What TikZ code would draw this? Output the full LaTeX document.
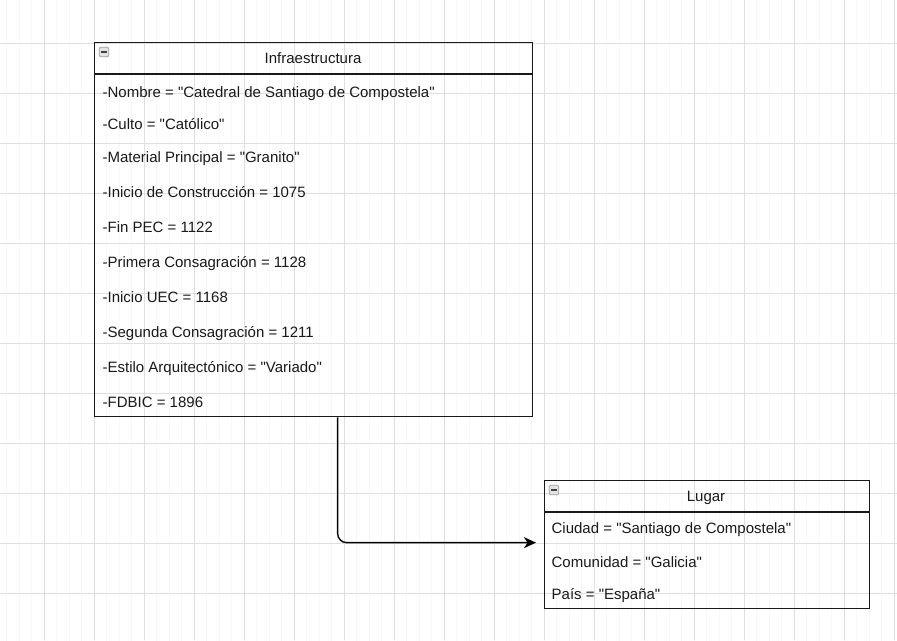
\documentclass[tikz,border=0pt]{standalone}
\usepackage{fontspec}
\setmainfont{Liberation Sans}[Ligatures=TeXOff]
\usetikzlibrary{arrows.meta}

\begin{document}
\begin{tikzpicture}[x=1pt, y=-1pt, line width=1.3pt,
  every node/.style={font=\fontsize{15}{18}\selectfont, inner sep=0pt, text=black!90},
  classbox/.style={draw=black!90, rectangle, anchor=north west},
  attr/.style={anchor=base west},
  minusbox/.style={draw=gray!75, fill=gray!22, rounded corners=1.2pt, line width=0.7pt,
    minimum size=9.5pt, path picture={\draw[line width=1.6pt, black!75]
      ([xshift=2pt]path picture bounding box.west) -- ([xshift=-2pt]path picture bounding box.east);}},
  conn/.style={draw=black, line width=1.4pt, rounded corners=9pt, -{Stealth[length=12pt, width=11pt, inset=3.5pt]}}]
  % background grid
  \useasboundingbox (0,0) rectangle (897,640);
  \begin{scope}[shift={(6.5,5.5)}]
    \draw[gray!6, line width=0.6pt, step=12.5] (-12.5,-12.5) grid (900,650);
  \end{scope}
  \foreach \gx in {44,94,...,894} \draw[gray!25, line width=0.6pt] (\gx,0) -- (\gx,640);
  \foreach \gy in {43,93,...,640} \draw[gray!25, line width=0.6pt] (0,\gy) -- (897,\gy);

  % Infraestructura
  \node[classbox, minimum width=438pt, minimum height=374pt] (infra) at (94,42) {};
  \draw[black!90] ([yshift=-32pt]infra.north west) -- ([yshift=-32pt]infra.north east);
  \node[minusbox] (infraicon) at (104,52) {};
  \node[anchor=base] (infratitle) at (313,63) {Infraestructura};
  \foreach \txt/\ypos [count=\i] in {-Nombre = "Catedral de Santiago de Compostela"/97,
      -Culto = "Católico"/129.5, -Material Principal = "Granito"/162,
      -Inicio de Construcción = 1075/197, -Fin PEC = 1122/232,
      -Primera Consagración = 1128/267, -Inicio UEC = 1168/302,
      -Segunda Consagración = 1211/337, -Estilo Arquitectónico = "Variado"/372,
      -FDBIC = 1896/407}
    \node[attr] (infra-\i) at (102,\ypos) {\txt};

  % Lugar
  \node[classbox, minimum width=325pt, minimum height=128pt] (lugar) at (544,480) {};
  \draw[black!90] ([yshift=-32pt]lugar.north west) -- ([yshift=-32pt]lugar.north east);
  \node[minusbox] (lugaricon) at (554,490) {};
  \node[anchor=base] (lugartitle) at (706,501) {Lugar};
  \foreach \txt/\ypos [count=\i] in {Ciudad = "Santiago de Compostela"/533,
      Comunidad = "Galicia"/567, País = "España"/599}
    \node[attr] (lugar-\i) at (551,\ypos) {\txt};

  % connector
  \draw[conn] ([xshift=24pt]infra.south) |- ([xshift=-8pt, yshift=2pt]lugar.west);
\end{tikzpicture}
\end{document}
